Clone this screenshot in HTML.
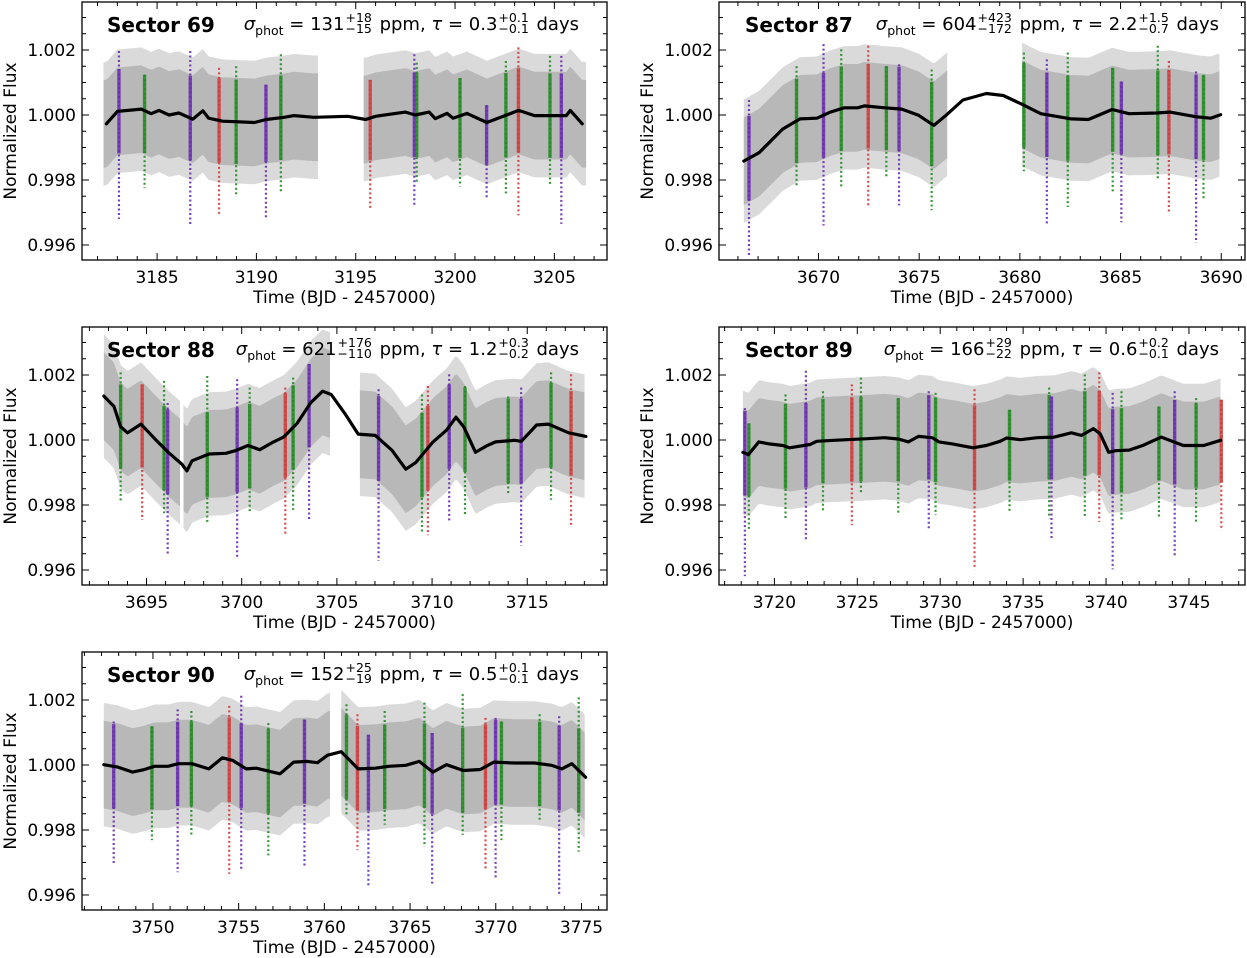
<!DOCTYPE html>
<html><head><meta charset="utf-8">
<style>
body{margin:0;background:#fff;width:1247px;height:958px;overflow:hidden;position:relative;font-family:"DejaVu Sans","Liberation Sans",sans-serif}
svg{position:absolute;left:0;top:0}
.ttl{position:absolute;font-weight:bold;font-size:20px;line-height:20px;color:#000;white-space:nowrap}
.st{position:absolute;font-size:18px;line-height:20px;color:#000;white-space:nowrap;text-align:right}
.ss{display:inline-flex;flex-direction:column;vertical-align:middle;font-size:12.5px;line-height:11px;margin:0 2px 0 1px;position:relative;top:-2px}
.sb{font-size:12.5px;position:relative;top:5px}
</style></head>
<body>
<svg id="chart" width="1247" height="958"></svg>

<div class="ttl" style="left:107px;top:15px">Sector 69</div>
<div class="st" style="right:668px;top:14px"><i>σ</i><span class="sb">phot</span> = 131<span class="ss"><span>+18</span><span>−15</span></span> ppm, <i>τ</i> = 0.3<span class="ss"><span>+0.1</span><span>−0.1</span></span> days</div>

<div class="ttl" style="left:745px;top:15px">Sector 87</div>
<div class="st" style="right:28px;top:14px"><i>σ</i><span class="sb">phot</span> = 604<span class="ss"><span>+423</span><span>−172</span></span> ppm, <i>τ</i> = 2.2<span class="ss"><span>+1.5</span><span>−0.7</span></span> days</div>

<div class="ttl" style="left:107px;top:340px">Sector 88</div>
<div class="st" style="right:668px;top:339px"><i>σ</i><span class="sb">phot</span> = 621<span class="ss"><span>+176</span><span>−110</span></span> ppm, <i>τ</i> = 1.2<span class="ss"><span>+0.3</span><span>−0.2</span></span> days</div>

<div class="ttl" style="left:745px;top:340px">Sector 89</div>
<div class="st" style="right:28px;top:339px"><i>σ</i><span class="sb">phot</span> = 166<span class="ss"><span>+29</span><span>−22</span></span> ppm, <i>τ</i> = 0.6<span class="ss"><span>+0.2</span><span>−0.1</span></span> days</div>

<div class="ttl" style="left:107px;top:665px">Sector 90</div>
<div class="st" style="right:668px;top:664px"><i>σ</i><span class="sb">phot</span> = 152<span class="ss"><span>+25</span><span>−19</span></span> ppm, <i>τ</i> = 0.5<span class="ss"><span>+0.1</span><span>−0.1</span></span> days</div>

<script>
// ---------- Sector 69 ----------
const s69Segments = [[3182.3,3193.1],[3195.4,3206.6]];
const s69TrendT = [3182.45,3183.0,3184.2,3184.7,3185.1,3185.6,3186.1,3186.8,3187.3,3187.6,3188.3,3189.9,3190.5,3191.4,3191.9,3192.9,3194.6,3195.5,3196.0,3197.5,3198.0,3198.7,3199.0,3199.6,3199.9,3200.6,3201.6,3202.3,3203.2,3204.0,3205.6,3205.8,3206.4];
const s69TrendF = [0.99973,1.00011,1.00018,1.00004,1.00014,1.0,1.00006,0.99987,1.00013,0.9999,0.99981,0.99977,0.99986,0.99993,0.99998,0.99993,0.99996,0.99986,0.99996,1.00009,1.0,1.00009,0.99989,1.00005,0.9999,1.00005,0.99977,0.99993,1.00014,0.99998,0.99998,1.00014,0.99973];
const s69TransitT = [3183.08,3184.37,3186.67,3188.12,3188.98,3190.48,3191.23,3195.73,3197.95,3198.07,3200.25,3201.59,3202.56,3203.19,3204.78,3205.35];
const s69TransitC = ['P','G','P','R','G','P','G','R','P','G','G','P','G','R','G','P'];
const s69TransitHi = [1.00197,1.00124,1.00197,1.00145,1.0015,1.00093,1.00187,1.00108,1.00187,1.00161,1.00114,1.0003,1.00166,1.00208,1.00182,1.00182];
const s69TransitLo = [0.9968,0.99775,0.9966,0.99696,0.99748,0.9968,0.99764,0.99712,0.99717,0.9979,0.9978,0.99743,0.99759,0.99691,0.99785,0.99665];

// ---------- Sector 87 ----------
const s87Segments = [[3666.29,3676.40],[3680.11,3689.96]];
const s87TrendT = [3666.29,3667.05,3668.23,3669.08,3669.92,3670.59,3671.27,3671.94,3672.28,3673.29,3674.13,3674.97,3675.73,3676.33,3677.17,3678.34,3679.18,3680.03,3681.04,3682.56,3683.41,3684.58,3685.42,3686.77,3687.45,3688.80,3689.47,3689.97];
const s87TrendF = [0.99858,0.99884,0.99957,0.99988,0.9999,1.00009,1.00022,1.00022,1.00028,1.00022,1.00018,0.99999,0.99968,0.99999,1.00046,1.00066,1.0006,1.00035,1.00004,0.99988,0.99986,1.00017,1.00004,1.00006,1.00009,0.99994,0.9999,1.00001];
const s87TransitT = [3666.55,3668.91,3670.25,3671.13,3672.47,3673.37,3674.00,3675.62,3680.20,3681.34,3682.38,3684.61,3685.04,3686.85,3687.40,3688.75,3689.12];
const s87TransitC = ['P','G','P','G','R','G','P','G','G','P','G','G','P','G','R','P','G'];
const s87TransitHi = [1.00046,1.0015,1.00218,1.00202,1.00213,1.0015,1.00156,1.0014,1.00192,1.00171,1.00192,1.00145,1.00103,1.00213,1.00166,1.00134,1.00124];
const s87TransitLo = [0.99566,0.9978,0.9966,0.9978,0.99722,0.99806,0.99722,0.99707,0.99827,0.99665,0.99717,0.99764,0.9967,0.99801,0.99701,0.99607,0.99743];

// ---------- Sector 88 ----------
const s88Segments = [[3692.76,3696.85],[3696.94,3704.70],[3706.21,3718.06]];
const s88TrendT = [3692.76,3693.29,3693.64,3694.00,3694.71,3695.43,3696.14,3696.85,3697.12,3697.39,3698.28,3699.17,3699.71,3700.33,3700.95,3701.67,3702.20,3702.91,3703.62,3704.25,3704.70,3705.41,3706.12,3707.02,3707.90,3708.62,3709.15,3710.05,3710.76,3711.26,3711.66,3712.28,3712.90,3713.34,3714.33,3714.69,3715.49,3716.11,3717.18,3718.08];
const s88TrendF = [1.00135,1.00103,1.00041,1.00022,1.00049,1.00004,0.99962,0.99926,0.99905,0.99936,0.99957,0.99959,0.99968,0.99983,0.9997,0.99994,1.00009,1.00051,1.00114,1.0015,1.0014,1.00082,1.00018,1.00014,0.99968,0.9991,0.99931,0.99994,1.0003,1.0007,1.00041,0.99962,0.99983,0.99994,0.99999,0.99996,1.00046,1.00049,1.00022,1.00011];
const s88TransitT = [3693.64,3694.77,3695.92,3696.11,3698.19,3699.76,3700.42,3702.29,3702.70,3703.54,3707.19,3709.47,3709.78,3710.90,3711.73,3714.00,3714.68,3716.25,3717.30];
const s88TransitC = ['G','R','G','P','G','P','G','R','G','P','P','G','R','P','G','G','P','G','R'];
const s88TransitHi = [1.00208,1.00171,1.00182,1.00114,1.00197,1.00187,1.00161,1.00161,1.00192,1.00234,1.00156,1.0014,1.00166,1.00202,1.00166,1.00134,1.00161,1.00208,1.00202];
const s88TransitLo = [0.99811,0.99754,0.99775,0.99644,0.99748,0.99634,0.9978,0.99707,0.99785,0.99754,0.99628,0.99717,0.99707,0.99748,0.99769,0.99832,0.99675,0.99816,0.99733];

// ---------- Sector 89 ----------
const s89Segments = [[3718.10,3746.91]];
const s89TrendT = [3718.10,3718.43,3719.06,3719.69,3720.51,3720.92,3722.15,3722.55,3723.58,3725.62,3726.65,3727.47,3728.08,3728.69,3729.52,3729.92,3730.74,3731.97,3732.78,3733.61,3734.01,3734.84,3735.85,3736.88,3737.91,3738.52,3739.24,3739.65,3740.16,3740.57,3741.39,3742.21,3743.33,3744.66,3745.89,3746.91];
const s89TrendF = [0.99962,0.99955,0.99994,0.99988,0.99983,0.99976,0.99986,0.99996,0.99999,1.00004,1.00007,1.00003,0.99994,1.00011,1.00007,0.99994,0.99988,0.99976,0.99983,0.99996,1.00006,1.00001,1.00007,1.00009,1.00022,1.00014,1.00035,1.00019,0.99962,0.99967,0.99969,0.99983,1.00009,0.99983,0.99983,0.99999];
const s89TransitT = [3718.22,3718.46,3720.67,3721.90,3722.93,3724.67,3725.22,3727.47,3729.31,3729.72,3732.07,3734.18,3736.57,3736.71,3738.72,3739.59,3740.40,3740.93,3743.19,3744.14,3745.43,3746.95];
const s89TransitC = ['P','G','G','P','G','R','G','G','P','G','R','G','G','P','G','R','P','G','G','P','G','R'];
const s89TransitHi = [1.00098,1.00051,1.0014,1.00213,1.0015,1.00171,1.00192,1.00129,1.0015,1.00145,1.00156,1.00093,1.00161,1.00134,1.00202,1.00208,1.00145,1.0015,1.00103,1.0015,1.00129,1.00124];
const s89TransitLo = [0.99581,0.99722,0.99754,0.99691,0.9978,0.99738,0.99832,0.99769,0.99728,0.99769,0.99602,0.99775,0.99759,0.99696,0.99759,0.99748,0.99602,0.99754,0.99764,0.99644,0.99743,0.99722];

// ---------- Sector 90 ----------
const s90Segments = [[3747.13,3760.39],[3760.99,3775.24]];
const s90TrendT = [3747.13,3747.91,3748.81,3749.50,3750.09,3750.88,3751.48,3752.27,3753.26,3754.05,3754.65,3755.44,3756.03,3757.41,3758.21,3759.00,3759.60,3760.19,3760.99,3761.97,3762.97,3763.76,3764.75,3765.54,3766.33,3767.12,3768.11,3769.10,3769.89,3771.07,3772.26,3773.25,3773.85,3774.44,3775.24];
const s90TrendF = [1.00001,0.99994,0.99978,0.99986,0.99996,0.99996,1.00004,1.00004,0.99988,1.00022,1.00014,0.99988,0.9999,0.99973,1.00009,1.00011,1.00007,1.0003,1.00041,0.99988,0.9999,0.99996,0.99999,1.00011,0.99978,1.00001,0.99983,0.99986,1.00009,1.00006,1.00006,0.99999,0.99988,1.00004,0.99962];
const s90TransitT = [3747.71,3749.94,3751.44,3752.24,3754.45,3755.15,3756.73,3758.84,3761.29,3761.93,3762.57,3763.52,3765.84,3766.29,3768.07,3769.40,3769.99,3770.33,3772.56,3773.70,3774.84];
const s90TransitC = ['P','G','P','G','R','P','G','P','G','R','P','G','G','P','G','R','P','G','G','P','G'];
const s90TransitHi = [1.00134,1.00119,1.00171,1.00166,1.00182,1.00213,1.00129,1.0014,1.00187,1.00156,1.00093,1.00166,1.00192,1.00098,1.00218,1.00145,1.00145,1.00134,1.00156,1.0015,1.00208];
const s90TransitLo = [0.99691,0.99769,0.9967,0.9978,0.99665,0.99675,0.99722,0.99686,0.99842,0.99738,0.99623,0.99816,0.99748,0.99634,0.99785,0.9968,0.99649,0.99769,0.99832,0.99597,0.99733];

// axis tick values
const yTickValues = [0.996,0.998,1.000,1.002];
const yTickLabels = ['0.996','0.998','1.000','1.002'];

const NS = 'http://www.w3.org/2000/svg';
const svg = document.getElementById('chart');
const COLORS = {P:'#6a2db0', G:'#228b22', R:'#d23c3c'};

function mk(tag, attrs, parent){
  const e = document.createElementNS(NS, tag);
  for (const k in attrs) e.setAttribute(k, attrs[k]);
  (parent || svg).appendChild(e);
  return e;
}

const panels = [
  {id:'69', x0:82, x1:607, top:2, tmin:3181.22, tmax:3207.65, seg:s69Segments, tt:s69TrendT, tf:s69TrendF, qt:s69TransitT, qc:s69TransitC, qh:s69TransitHi, ql:s69TransitLo},
  {id:'87', x0:719, x1:1245, top:2, tmin:3665.06, tmax:3691.18, seg:s87Segments, tt:s87TrendT, tf:s87TrendF, qt:s87TransitT, qc:s87TransitC, qh:s87TransitHi, ql:s87TransitLo},
  {id:'88', x0:82, x1:607, top:327, tmin:3691.61, tmax:3719.19, seg:s88Segments, tt:s88TrendT, tf:s88TrendF, qt:s88TransitT, qc:s88TransitC, qh:s88TransitHi, ql:s88TransitLo},
  {id:'89', x0:719, x1:1245, top:327, tmin:3716.66, tmax:3748.38, seg:s89Segments, tt:s89TrendT, tf:s89TrendF, qt:s89TransitT, qc:s89TransitC, qh:s89TransitHi, ql:s89TransitLo},
  {id:'90', x0:82, x1:607, top:652, tmin:3745.86, tmax:3776.49, seg:s90Segments, tt:s90TrendT, tf:s90TrendF, qt:s90TransitT, qc:s90TransitC, qh:s90TransitHi, ql:s90TransitLo}
];

function interp(ts, fs, t){
  if (t <= ts[0]) return fs[0];
  for (let i=1;i<ts.length;i++){
    if (t <= ts[i]){ const r=(t-ts[i-1])/(ts[i]-ts[i-1]); return fs[i-1]+r*(fs[i]-fs[i-1]); }
  }
  return fs[fs.length-1];
}

panels.forEach(p => {
  const H = 258;
  const fTop = 1.003477, fBot = 0.995538;
  const xs = t => p.x0 + (t - p.tmin) / (p.tmax - p.tmin) * (p.x1 - p.x0);
  const ys = f => p.top + (fTop - f) / (fTop - fBot) * H;
  const g = mk('g', {});
  
  
  const clipId = 'clip' + p.id;
  const cp = mk('clipPath', {id: clipId}, g);
  mk('rect', {x:p.x0, y:p.top, width:p.x1-p.x0, height:H}, cp);
  const plot = mk('g', {'clip-path':'url(#'+clipId+')'}, g);

  p.seg.forEach((s) => {
    [[0.0019,'#dadada'],[0.00135,'#b8b8b8']].forEach(([w,col]) => {
      const up=[], dn=[];
      for (let t=s[0]; t<=s[1]+1e-9; t+=0.1){
        const c = interp(p.tt, p.tf, t);
        up.push(xs(t).toFixed(1)+','+ys(c+w).toFixed(1));
        dn.unshift(xs(t).toFixed(1)+','+ys(c-w).toFixed(1));
      }
      const poly = mk('polygon', {points: up.concat(dn).join(' '), fill: col}, plot);
      
      
    });
  });

  p.qt.forEach((t, i) => {
    const col = COLORS[p.qc[i]];
    const c = interp(p.tt, p.tf, t);
    const x = xs(t);
    const l1 = mk('line', {x1:x, x2:x, y1:ys(p.qh[i]), y2:ys(p.ql[i]), stroke:col, 'stroke-width':2.2, 'stroke-dasharray':'2 2.5', opacity:0.9}, plot);
    
    
    const hi = Math.min(p.qh[i], c + 0.0013), lo = Math.max(p.ql[i], c - 0.0013);
    const l2 = mk('line', {x1:x, x2:x, y1:ys(hi), y2:ys(lo), stroke:col, 'stroke-width':3.4, opacity:0.85}, plot);
    
    
  });

  const pts = p.tt.map((t,i) => xs(t).toFixed(1)+','+ys(p.tf[i]).toFixed(1)).join(' ');
  const tl = mk('polyline', {points: pts, fill:'none', stroke:'#000', 'stroke-width':3.2, 'stroke-linejoin':'round', 'stroke-linecap':'round'}, plot);
  
  

  const fr = mk('rect', {x:p.x0, y:p.top, width:p.x1-p.x0, height:H, fill:'none', stroke:'#000', 'stroke-width':1.3}, g);
  
  

  for (let k=0; k<=16; k++){
    const f = 0.9960 + k*0.0005 - 0.0005;
    if (f < fBot || f > fTop) continue;
    const y = ys(f);
    const major = Math.abs(Math.round(f*1000)/1000 - f) < 1e-7 && Math.round(f*1000)%2===0;
    const len = major ? 7 : 4;
    mk('line', {x1:p.x0, x2:p.x0+len, y1:y, y2:y, stroke:'#000', 'stroke-width':1}, g);
    mk('line', {x1:p.x1, x2:p.x1-len, y1:y, y2:y, stroke:'#000', 'stroke-width':1}, g);
  }
  yTickValues.forEach((v, i) => {
    const tx = mk('text', {x:p.x0-6, y:ys(v)+6, 'text-anchor':'end', 'font-size':17, 'font-family':'DejaVu Sans, Liberation Sans, sans-serif'}, g);
    tx.textContent = yTickLabels[i];
    
    
  });
  const bot = p.top + H;
  for (let t=Math.ceil(p.tmin); t<=p.tmax; t++){
    const x = xs(t);
    const major = t % 5 === 0;
    const len = major ? 7 : 4;
    mk('line', {x1:x, x2:x, y1:bot, y2:bot-len, stroke:'#000', 'stroke-width':1}, g);
    mk('line', {x1:x, x2:x, y1:p.top, y2:p.top+len, stroke:'#000', 'stroke-width':1}, g);
    if (major){
      const tx = mk('text', {x:x, y:bot+23, 'text-anchor':'middle', 'font-size':17, 'font-family':'DejaVu Sans, Liberation Sans, sans-serif'}, g);
      tx.textContent = String(t);
      
      
    }
  }
  const xt = mk('text', {x:(p.x0+p.x1)/2, y:bot+43, 'text-anchor':'middle', 'font-size':17, 'font-family':'DejaVu Sans, Liberation Sans, sans-serif'}, g);
  xt.textContent = 'Time (BJD - 2457000)';
  
  
  const yx = p.x0 - 66, yy = p.top + H/2;
  const yt = mk('text', {x:yx, y:yy, 'text-anchor':'middle', 'font-size':17, 'font-family':'DejaVu Sans, Liberation Sans, sans-serif', transform:'rotate(-90 '+yx+' '+yy+')'}, g);
  yt.textContent = 'Normalized Flux';
  
  
});
</script>
</body></html>
